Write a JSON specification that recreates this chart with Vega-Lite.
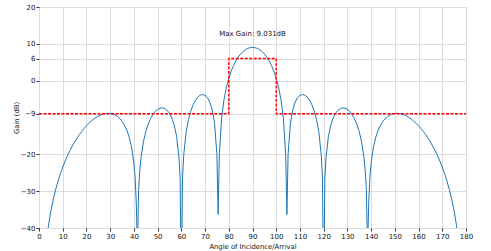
{
  "$schema": "https://vega.github.io/schema/vega-lite/v6.json",
  "autosize": {"type": "none"},
  "width": 427,
  "height": 221,
  "padding": {"left": 39, "top": 7, "right": 25, "bottom": 23},
  "background": "white",
  "config": {
    "view": {"stroke": "#808080", "strokeWidth": 1},
    "font": "DejaVu Sans",
    "axis": {
      "grid": true,
      "gridColor": "#dcdcdc",
      "gridWidth": 1,
      "domain": false,
      "tickColor": "#333333",
      "tickSize": 3,
      "labelFont": "DejaVu Sans",
      "labelFontSize": 7,
      "labelColor": "#111111",
      "titleFont": "DejaVu Sans",
      "titleFontSize": 6.8,
      "titleFontWeight": "normal",
      "titleColor": "#111111"
    }
  },
  "datasets": {
    "pattern": [
      {"angle": 3, "gain": -44.31}, {"angle": 4, "gain": -39.30}, {"angle": 5, "gain": -35.43}, {"angle": 6, "gain": -32.28},
      {"angle": 7, "gain": -29.62}, {"angle": 8, "gain": -27.30}, {"angle": 9, "gain": -25.28}, {"angle": 10, "gain": -23.47},
      {"angle": 11, "gain": -21.84}, {"angle": 12, "gain": -20.36}, {"angle": 13, "gain": -19.01}, {"angle": 14, "gain": -17.79},
      {"angle": 15, "gain": -16.65}, {"angle": 16, "gain": -15.61}, {"angle": 17, "gain": -14.66}, {"angle": 18, "gain": -13.78},
      {"angle": 19, "gain": -12.98}, {"angle": 20, "gain": -12.25}, {"angle": 21, "gain": -11.59}, {"angle": 22, "gain": -10.99},
      {"angle": 23, "gain": -10.47}, {"angle": 24, "gain": -10.01}, {"angle": 25, "gain": -9.63}, {"angle": 26, "gain": -9.31},
      {"angle": 27, "gain": -9.08}, {"angle": 28, "gain": -8.93}, {"angle": 29, "gain": -8.86}, {"angle": 30, "gain": -8.89},
      {"angle": 31, "gain": -9.03}, {"angle": 32, "gain": -9.29}, {"angle": 33, "gain": -9.69}, {"angle": 34, "gain": -10.25},
      {"angle": 35, "gain": -11.02}, {"angle": 36, "gain": -12.04}, {"angle": 37, "gain": -13.41}, {"angle": 38, "gain": -15.29},
      {"angle": 39, "gain": -18.00}, {"angle": 40, "gain": -22.40}, {"angle": 40.5, "gain": -26.09}, {"angle": 41, "gain": -32.93},
      {"angle": 41.5, "gain": -46.0}, {"angle": 42, "gain": -29.60}, {"angle": 42.5, "gain": -24.23}, {"angle": 43, "gain": -20.92},
      {"angle": 44, "gain": -16.66}, {"angle": 45, "gain": -13.87}, {"angle": 46, "gain": -11.86}, {"angle": 47, "gain": -10.35},
      {"angle": 48, "gain": -9.21}, {"angle": 49, "gain": -8.37}, {"angle": 50, "gain": -7.80}, {"angle": 51, "gain": -7.48},
      {"angle": 52, "gain": -7.40}, {"angle": 53, "gain": -7.58}, {"angle": 54, "gain": -8.05}, {"angle": 55, "gain": -8.87},
      {"angle": 56, "gain": -10.15}, {"angle": 57, "gain": -12.07}, {"angle": 58, "gain": -15.12}, {"angle": 59, "gain": -20.75},
      {"angle": 59.5, "gain": -26.6}, {"angle": 60, "gain": -60}, {"angle": 60.5, "gain": -26.35}, {"angle": 61, "gain": -20.25},
      {"angle": 62, "gain": -14.12}, {"angle": 63, "gain": -10.59}, {"angle": 64, "gain": -8.20}, {"angle": 65, "gain": -6.48},
      {"angle": 66, "gain": -5.25}, {"angle": 67, "gain": -4.41}, {"angle": 68, "gain": -3.92}, {"angle": 69, "gain": -3.77},
      {"angle": 70, "gain": -3.98}, {"angle": 71, "gain": -4.62}, {"angle": 72, "gain": -5.82}, {"angle": 73, "gain": -7.85},
      {"angle": 74, "gain": -11.48}, {"angle": 75, "gain": -20.10}, {"angle": 75.5, "gain": -36.3}, {"angle": 76, "gain": -20.30},
      {"angle": 77, "gain": -10.00}, {"angle": 78, "gain": -5.10}, {"angle": 79, "gain": -1.82}, {"angle": 80, "gain": 0.63},
      {"angle": 81, "gain": 2.55}, {"angle": 82, "gain": 4.11}, {"angle": 83, "gain": 5.38}, {"angle": 84, "gain": 6.41},
      {"angle": 85, "gain": 7.25}, {"angle": 86, "gain": 7.91}, {"angle": 87, "gain": 8.40}, {"angle": 88, "gain": 8.76},
      {"angle": 89, "gain": 8.96}, {"angle": 90, "gain": 9.03}, {"angle": 91, "gain": 8.96}, {"angle": 92, "gain": 8.76},
      {"angle": 93, "gain": 8.40}, {"angle": 94, "gain": 7.91}, {"angle": 95, "gain": 7.25}, {"angle": 96, "gain": 6.41},
      {"angle": 97, "gain": 5.38}, {"angle": 98, "gain": 4.11}, {"angle": 99, "gain": 2.55}, {"angle": 100, "gain": 0.63},
      {"angle": 101, "gain": -1.82}, {"angle": 102, "gain": -5.10}, {"angle": 103, "gain": -10.00}, {"angle": 104, "gain": -20.30},
      {"angle": 104.5, "gain": -36.3}, {"angle": 105, "gain": -20.10}, {"angle": 106, "gain": -11.48}, {"angle": 107, "gain": -7.85},
      {"angle": 108, "gain": -5.82}, {"angle": 109, "gain": -4.62}, {"angle": 110, "gain": -3.98}, {"angle": 111, "gain": -3.77},
      {"angle": 112, "gain": -3.92}, {"angle": 113, "gain": -4.41}, {"angle": 114, "gain": -5.25}, {"angle": 115, "gain": -6.48},
      {"angle": 116, "gain": -8.20}, {"angle": 117, "gain": -10.59}, {"angle": 118, "gain": -14.12}, {"angle": 119, "gain": -20.25},
      {"angle": 119.5, "gain": -26.35}, {"angle": 120, "gain": -60}, {"angle": 120.5, "gain": -26.6}, {"angle": 121, "gain": -20.75},
      {"angle": 122, "gain": -15.12}, {"angle": 123, "gain": -12.07}, {"angle": 124, "gain": -10.15}, {"angle": 125, "gain": -8.87},
      {"angle": 126, "gain": -8.05}, {"angle": 127, "gain": -7.58}, {"angle": 128, "gain": -7.40}, {"angle": 129, "gain": -7.48},
      {"angle": 130, "gain": -7.80}, {"angle": 131, "gain": -8.37}, {"angle": 132, "gain": -9.21}, {"angle": 133, "gain": -10.35},
      {"angle": 134, "gain": -11.86}, {"angle": 135, "gain": -13.87}, {"angle": 136, "gain": -16.66}, {"angle": 137, "gain": -20.92},
      {"angle": 137.5, "gain": -24.23}, {"angle": 138, "gain": -29.60}, {"angle": 138.5, "gain": -46.0}, {"angle": 139, "gain": -32.93},
      {"angle": 139.5, "gain": -26.09}, {"angle": 140, "gain": -22.40}, {"angle": 141, "gain": -18.00}, {"angle": 142, "gain": -15.29},
      {"angle": 143, "gain": -13.41}, {"angle": 144, "gain": -12.04}, {"angle": 145, "gain": -11.02}, {"angle": 146, "gain": -10.25},
      {"angle": 147, "gain": -9.69}, {"angle": 148, "gain": -9.29}, {"angle": 149, "gain": -9.03}, {"angle": 150, "gain": -8.89},
      {"angle": 151, "gain": -8.86}, {"angle": 152, "gain": -8.93}, {"angle": 153, "gain": -9.08}, {"angle": 154, "gain": -9.31},
      {"angle": 155, "gain": -9.63}, {"angle": 156, "gain": -10.01}, {"angle": 157, "gain": -10.47}, {"angle": 158, "gain": -10.99},
      {"angle": 159, "gain": -11.59}, {"angle": 160, "gain": -12.25}, {"angle": 161, "gain": -12.98}, {"angle": 162, "gain": -13.78},
      {"angle": 163, "gain": -14.66}, {"angle": 164, "gain": -15.61}, {"angle": 165, "gain": -16.65}, {"angle": 166, "gain": -17.79},
      {"angle": 167, "gain": -19.01}, {"angle": 168, "gain": -20.36}, {"angle": 169, "gain": -21.84}, {"angle": 170, "gain": -23.47},
      {"angle": 171, "gain": -25.28}, {"angle": 172, "gain": -27.30}, {"angle": 173, "gain": -29.62}, {"angle": 174, "gain": -32.28},
      {"angle": 175, "gain": -35.43}, {"angle": 176, "gain": -39.30}, {"angle": 177, "gain": -44.31}
    ],
    "mask": [
      {"order": 1, "angle": 0, "gain": -9},
      {"order": 2, "angle": 80, "gain": -9},
      {"order": 3, "angle": 80, "gain": 6},
      {"order": 4, "angle": 100, "gain": 6},
      {"order": 5, "angle": 100, "gain": -9},
      {"order": 6, "angle": 180, "gain": -9}
    ],
    "note": [
      {"angle": 90, "gain": 12.6, "label": "Max Gain: 9.031dB"}
    ]
  },
  "encoding": {
    "x": {
      "field": "angle", "type": "quantitative",
      "scale": {"domain": [0, 180], "nice": false, "zero": false},
      "axis": {"values": [0,10,20,30,40,50,60,70,80,90,100,110,120,130,140,150,160,170,180], "title": "Angle of Incidence/Arrival", "titlePadding": 4, "labelPadding": 1, "labelFlush": false}
    },
    "y": {
      "field": "gain", "type": "quantitative",
      "scale": {"domain": [-40, 20], "nice": false, "zero": false},
      "axis": {"values": [-40,-30,-20,-9,0,6,10,20], "title": "Gain (dB)", "titlePadding": 1, "labelPadding": 1, "labelFlush": false, "labelExpr": "replace(datum.label, '-', '−')"}
    }
  },
  "layer": [
    {
      "data": {"name": "pattern"},
      "mark": {"type": "line", "color": "#1f77b4", "strokeWidth": 1, "clip": true}
    },
    {
      "data": {"name": "mask"},
      "mark": {"type": "line", "color": "#ff0000", "strokeWidth": 1.4, "strokeDash": [3, 1.5], "clip": true},
      "encoding": {"order": {"field": "order", "type": "quantitative"}}
    },
    {
      "data": {"name": "note"},
      "mark": {"type": "text", "font": "DejaVu Sans", "fontSize": 7, "color": "#111111", "align": "center", "baseline": "middle"},
      "encoding": {"text": {"field": "label"}}
    }
  ]
}
